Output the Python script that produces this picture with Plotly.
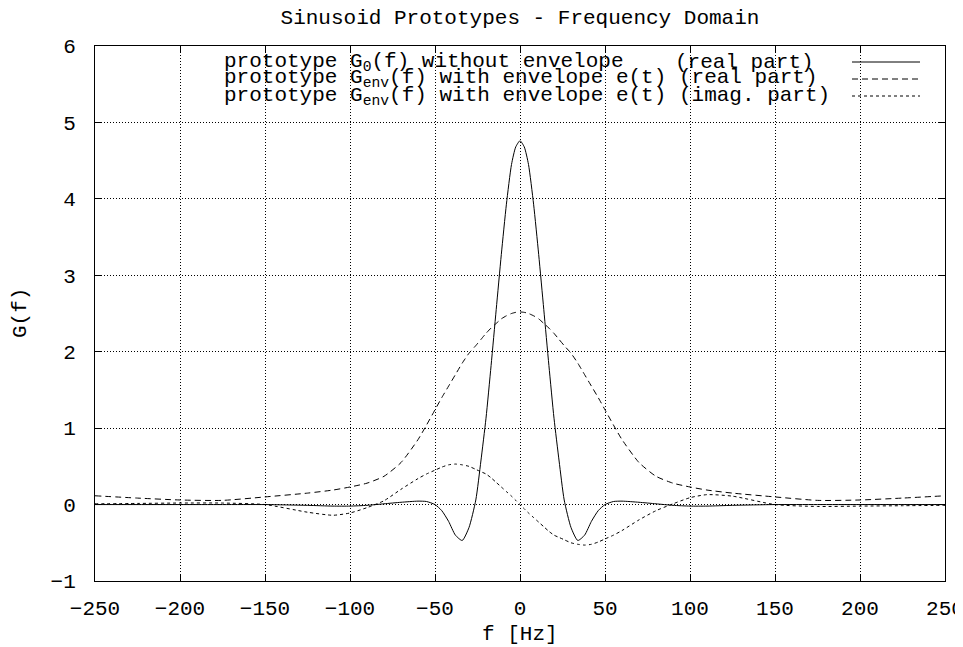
import plotly.graph_objects as go

# frequency axis samples [Hz]
freq = [-250, -225, -200, -175, -150, -125, -110, -100, -90, -80, -70, -60, -55, -50, -46, -42, -38, -34, -30,
        -26, -23, -20, -17, -14, -11, -8, -5, -2.5, 0, 2.5, 5, 8, 11, 14, 17, 20, 23, 26, 30, 34, 38, 42,
        46, 50, 55, 60, 70, 80, 90, 100, 110, 125, 150, 175, 200, 225, 250]

# G0(f), real part
g0_real = [0.0, 0.0, 0.0, 0.0, 0.0, -0.01, -0.02, -0.02, -0.01, 0.01, 0.03, 0.045, 0.04, 0.0, -0.08, -0.22, -0.40, -0.47, -0.30,
           0.06, 0.57, 1.13, 1.82, 2.55, 3.27, 3.93, 4.45, 4.68, 4.76, 4.68, 4.45, 3.93, 3.27, 2.55, 1.82, 1.13, 0.57, 0.06, -0.30, -0.47, -0.40, -0.22,
           -0.08, 0.0, 0.04, 0.045, 0.03, 0.01, -0.01, -0.02, -0.02, -0.01, 0.0, 0.0, 0.0, 0.0, 0.0]

# Genv(f), real part
genv_real = [0.115, 0.085, 0.06, 0.055, 0.10, 0.15, 0.19, 0.23, 0.28, 0.37, 0.55, 0.85, 1.04, 1.24, 1.40, 1.55, 1.70, 1.85, 1.98,
             2.08, 2.16, 2.24, 2.31, 2.37, 2.43, 2.47, 2.50, 2.515, 2.52, 2.515, 2.50, 2.47, 2.43, 2.37, 2.31, 2.24, 2.16, 2.08, 1.98, 1.85, 1.70, 1.55,
             1.40, 1.24, 1.04, 0.85, 0.55, 0.37, 0.28, 0.23, 0.19, 0.15, 0.10, 0.055, 0.06, 0.085, 0.115]

# Genv(f), imaginary part
genv_imag = [0.01, 0.015, 0.02, 0.02, 0.0, -0.10, -0.14, -0.11, -0.04, 0.05, 0.20, 0.34, 0.40, 0.45, 0.49, 0.52, 0.53, 0.52, 0.50,
             0.46, 0.43, 0.40, 0.35, 0.29, 0.23, 0.17, 0.11, 0.055, 0.0, -0.055, -0.11, -0.17, -0.23, -0.29, -0.35, -0.40, -0.43, -0.46, -0.50, -0.52, -0.53, -0.52,
             -0.49, -0.45, -0.40, -0.34, -0.20, -0.08, 0.01, 0.09, 0.13, 0.11, 0.0, -0.025, -0.02, -0.015, -0.01]

x_ticks = [-250, -200, -150, -100, -50, 0, 50, 100, 150, 200, 250]
y_ticks = [-1, 0, 1, 2, 3, 4, 5, 6]

FONT = "Liberation Mono, Courier New, monospace"
FS = 21

# the page body adds an 8px margin, so everything is laid out 8px up/left
OFF = 8
W, H = 963 - OFF, 647 - OFF
L, R, T, B = 95 - OFF, 945 - OFF, 46 - OFF, 581 - OFF
def px(x):
    return (x - OFF - L) / (R - L)
def py(y):
    return (B - (y - OFF)) / (B - T)

fig = go.Figure()
styles = [("solid", g0_real), ("6px,4px", genv_real), ("3px,3px", genv_imag)]
for dash, ys in styles:
    fig.add_trace(go.Scatter(x=freq, y=ys, mode="lines",
                             line=dict(color="black", width=1, dash=dash, shape="spline", smoothing=0.6),
                             showlegend=False, hoverinfo="skip"))

fig.update_layout(
    width=W, height=H,
    margin=dict(l=L, r=W - R, t=T, b=H - B, autoexpand=False),
    plot_bgcolor="white", paper_bgcolor="white",
    font=dict(family=FONT, size=FS, color="black"),
    title=dict(text="Sinusoid Prototypes - Frequency Domain", x=0.5, xref="paper", xanchor="center",
               yref="container", y=1 - 1 / H, yanchor="top", font=dict(family=FONT, size=FS)),
    showlegend=False,
)
axis_common = dict(showline=True, linecolor="black", linewidth=1, mirror="ticks", ticks="inside", ticklen=7, tickcolor="black",
                   showgrid=True, gridcolor="black", gridwidth=1, griddash="1px,2px", zeroline=False, automargin=False,
                   tickfont=dict(family=FONT, size=FS), ticklabeloverflow="allow")
fig.update_xaxes(range=[-250, 250], tickvals=x_ticks, ticklabelstandoff=8, **axis_common)
fig.update_yaxes(range=[-1, 6], tickvals=y_ticks, ticklabelstandoff=14, **axis_common)

# axis titles
fig.add_annotation(text="f [Hz]", xref="paper", yref="paper", x=px(520), y=py(634), xanchor="center", yanchor="middle",
                   showarrow=False, font=dict(family=FONT, size=FS))
fig.add_annotation(text="G(f)", xref="paper", yref="paper", x=px(20), y=py(313), xanchor="center", yanchor="middle",
                   textangle=-90, showarrow=False, font=dict(family=FONT, size=FS))

# key box (covers grid behind the key)
fig.add_shape(type="rect", xref="paper", yref="paper", x0=px(216), x1=px(932), y0=py(106), y1=py(53),
              fillcolor="white", line=dict(width=0), layer="between")

key_rows = [
    ("prototype G<sub>0</sub>(f) without envelope", "(real part)", 62, "solid"),
    ("prototype G<sub>env</sub>(f) with envelope e(t) (real part)", None, 79, "6px,4px"),
    ("prototype G<sub>env</sub>(f) with envelope e(t) (imag. part)", None, 96, "3px,3px"),
]
for left_txt, right_txt, yrow, dash in key_rows:
    fig.add_annotation(text=left_txt, xref="paper", yref="paper", x=px(222), y=py(yrow), xanchor="left", yanchor="middle",
                       showarrow=False, font=dict(family=FONT, size=FS))
    if right_txt:
        fig.add_annotation(text=right_txt, xref="paper", yref="paper", x=px(816), y=py(yrow), xanchor="right", yanchor="middle",
                           showarrow=False, font=dict(family=FONT, size=FS))
    fig.add_shape(type="line", xref="paper", yref="paper", x0=px(852), x1=px(920), y0=py(yrow), y1=py(yrow),
                  line=dict(color="black", width=1, dash=dash))

fig.write_html("out.html")
